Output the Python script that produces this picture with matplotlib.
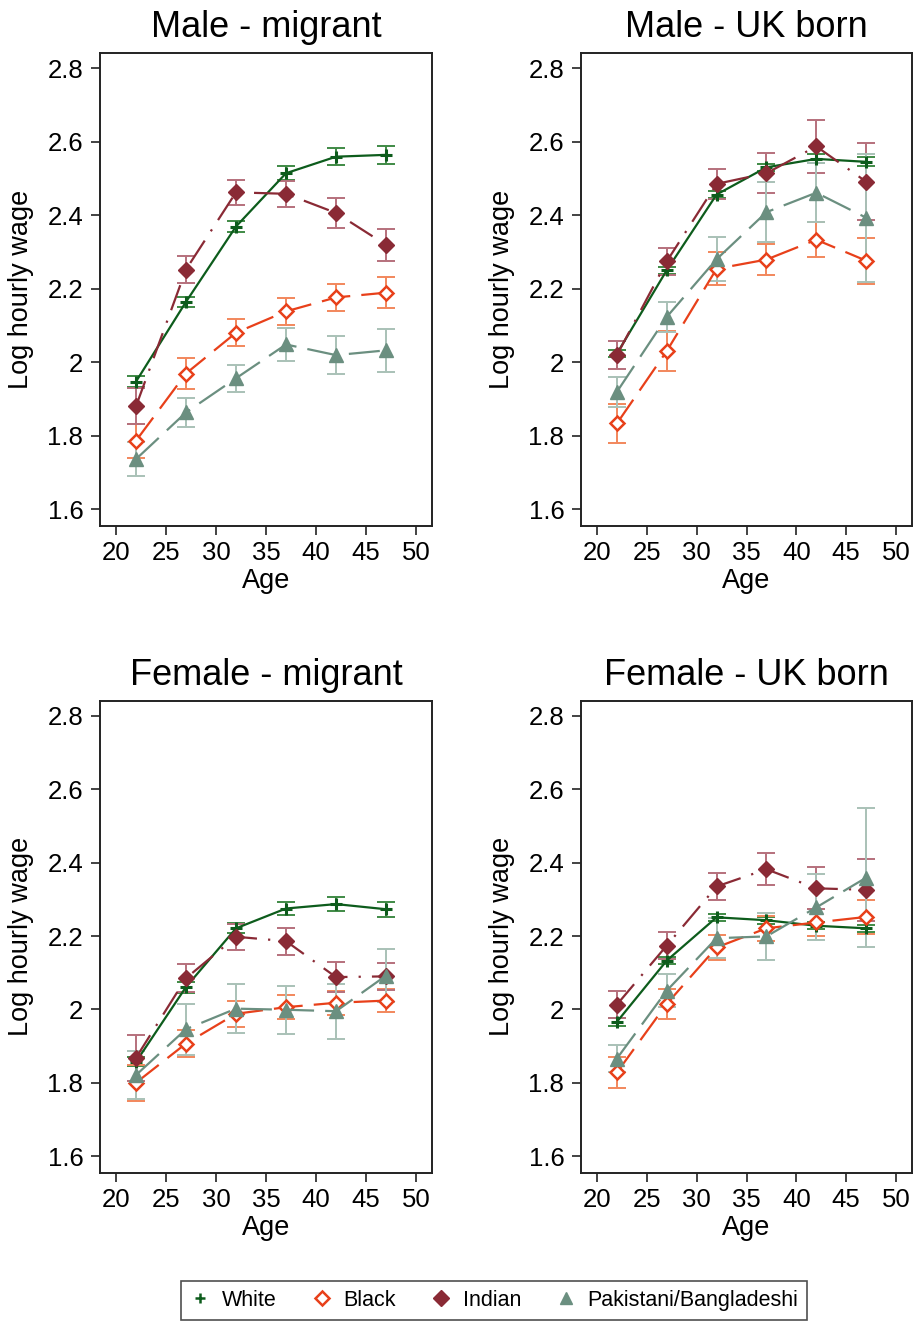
import matplotlib
matplotlib.use("Agg")
import matplotlib.pyplot as plt
from matplotlib.lines import Line2D

plt.rcParams['font.family'] = ['Liberation Sans', 'DejaVu Sans']

ages = [22, 27, 32, 37, 42, 47]
groups = ["White", "Black", "Indian", "Pakistani/Bangladeshi"]
panel_titles = ["Male - migrant", "Male - UK born", "Female - migrant", "Female - UK born"]
x_ticks = [20, 25, 30, 35, 40, 45, 50]
y_ticks = [1.6, 1.8, 2.0, 2.2, 2.4, 2.6, 2.8]
y_ticklabels = ["1.6", "1.8", "2", "2.2", "2.4", "2.6", "2.8"]

# Male - migrant
mm_white = [1.947, 2.164, 2.369, 2.514, 2.559, 2.564]
mm_white_err = [0.014, 0.014, 0.016, 0.019, 0.023, 0.025]
mm_black = [1.786, 1.969, 2.080, 2.138, 2.176, 2.189]
mm_black_err = [0.046, 0.041, 0.036, 0.036, 0.037, 0.043]
mm_indian = [1.880, 2.252, 2.462, 2.458, 2.406, 2.319]
mm_indian_err = [0.049, 0.038, 0.034, 0.036, 0.040, 0.043]
mm_pak = [1.736, 1.863, 1.956, 2.048, 2.019, 2.032]
mm_pak_err = [0.047, 0.040, 0.037, 0.046, 0.052, 0.058]

# Male - UK born
mu_white = [2.023, 2.250, 2.456, 2.530, 2.553, 2.545]
mu_white_err = [0.010, 0.010, 0.010, 0.010, 0.012, 0.012]
mu_black = [1.833, 2.030, 2.254, 2.279, 2.333, 2.276]
mu_black_err = [0.054, 0.054, 0.045, 0.043, 0.047, 0.063]
mu_indian = [2.019, 2.274, 2.485, 2.514, 2.587, 2.491]
mu_indian_err = [0.039, 0.037, 0.041, 0.054, 0.072, 0.104]
mu_pak = [1.919, 2.123, 2.280, 2.408, 2.461, 2.393]
mu_pak_err = [0.040, 0.041, 0.060, 0.082, 0.080, 0.174]

# Female - migrant
fm_white = [1.857, 2.061, 2.221, 2.275, 2.287, 2.273]
fm_white_err = [0.012, 0.015, 0.014, 0.019, 0.020, 0.021]
fm_black = [1.800, 1.907, 1.988, 2.006, 2.018, 2.024]
fm_black_err = [0.049, 0.036, 0.035, 0.032, 0.032, 0.031]
fm_indian = [1.868, 2.085, 2.198, 2.186, 2.088, 2.090]
fm_indian_err = [0.063, 0.038, 0.036, 0.037, 0.040, 0.037]
fm_pak = [1.821, 1.946, 2.002, 1.999, 1.995, 2.092]
fm_pak_err = [0.065, 0.069, 0.066, 0.066, 0.075, 0.072]

# Female - UK born
fu_white = [1.966, 2.133, 2.251, 2.243, 2.228, 2.221]
fu_white_err = [0.010, 0.010, 0.010, 0.010, 0.010, 0.010]
fu_black = [1.828, 2.015, 2.169, 2.221, 2.237, 2.252]
fu_black_err = [0.042, 0.041, 0.034, 0.034, 0.036, 0.046]
fu_indian = [2.013, 2.174, 2.335, 2.382, 2.330, 2.326]
fu_indian_err = [0.036, 0.037, 0.038, 0.044, 0.057, 0.084]
fu_pak = [1.866, 2.051, 2.194, 2.199, 2.278, 2.359]
fu_pak_err = [0.036, 0.045, 0.055, 0.065, 0.090, 0.190]

panels = [
    (mm_white, mm_white_err, mm_black, mm_black_err, mm_indian, mm_indian_err, mm_pak, mm_pak_err),
    (mu_white, mu_white_err, mu_black, mu_black_err, mu_indian, mu_indian_err, mu_pak, mu_pak_err),
    (fm_white, fm_white_err, fm_black, fm_black_err, fm_indian, fm_indian_err, fm_pak, fm_pak_err),
    (fu_white, fu_white_err, fu_black, fu_black_err, fu_indian, fu_indian_err, fu_pak, fu_pak_err),
]

colors = ['#0d5c1c', '#e8401a', '#8a2a35', '#6b8f80']
err_colors = ['#3f8a45', '#f2875c', '#b5707c', '#a9c1b7']
dashes = [None, (13, 5), (12, 5, 1, 5), (14, 5)]
markers = ['+', 'D', 'D', '^']
msizes = [8, 7, 8.5, 10]
mfaces = [colors[0], 'white', colors[2], colors[3]]
mews = [2.2, 1.8, 1.0, 1.0]

W, H = 913, 1322
fig = plt.figure(figsize=(W / 100, H / 100), dpi=100)

rects = [
    (100, 52.7, 332, 473.3),
    (581, 52.7, 331, 473.3),
    (100, 700.5, 332, 472.5),
    (581, 700.5, 331, 472.5),
]

for i, (rect, data) in enumerate(zip(rects, panels)):
    x0, y0, w, h = rect
    ax = fig.add_axes([x0 / W, 1 - (y0 + h) / H, w / W, h / H])
    for g in range(4):
        vals = data[2 * g]
        errs = data[2 * g + 1]
        ax.errorbar(ages, vals, yerr=errs, fmt='none', ecolor=err_colors[g],
                    elinewidth=1.4, capsize=6.5, capthick=1.4, zorder=2)
    for g in range(4):
        vals = data[2 * g]
        line, = ax.plot(ages, vals, color=colors[g], lw=1.6, marker=markers[g],
                        ms=msizes[g], mfc=mfaces[g], mec=colors[g], mew=mews[g],
                        zorder=3 + g)
        if dashes[g] is not None:
            line.set_dashes(dashes[g])
    ax.set_xlim(18.4, 51.6)
    ax.set_ylim(1.554, 2.842)
    ax.set_xticks(x_ticks)
    ax.set_yticks(y_ticks)
    ax.set_yticklabels(y_ticklabels)
    ax.tick_params(axis='both', direction='out', length=6.5, width=1.2,
                   labelsize=18.5, pad=4, color='#222222')
    ax.tick_params(axis='y', pad=5.5)
    for sp in ax.spines.values():
        sp.set_linewidth(1.4)
        sp.set_color('#222222')
    ax.set_title(panel_titles[i], fontsize=26, pad=11)
    ax.set_xlabel("Age", fontsize=19.5)
    ax.set_ylabel("Log hourly wage", fontsize=19.5)
    ax.xaxis.set_label_coords(0.5, -0.088)
    ax.yaxis.set_label_coords(-0.198, 0.5)

handles = []
leg_ms = [7, 7, 8, 9]
for g in range(4):
    handles.append(Line2D([], [], linestyle='none', marker=markers[g], ms=leg_ms[g],
                          mfc=mfaces[g], mec=colors[g], mew=mews[g] if g != 0 else 1.8))
leg = fig.legend(handles, groups, loc='center', bbox_to_anchor=(494 / W, 1 - 1300.5 / H),
                 ncol=4, fontsize=15.5, frameon=True, fancybox=False, handlelength=1.0,
                 handletextpad=0.5, columnspacing=1.6, borderpad=0.4, borderaxespad=0.0,
                 edgecolor='#222222')
leg.get_frame().set_linewidth(1.2)

fig.savefig("out.png", dpi=100)
